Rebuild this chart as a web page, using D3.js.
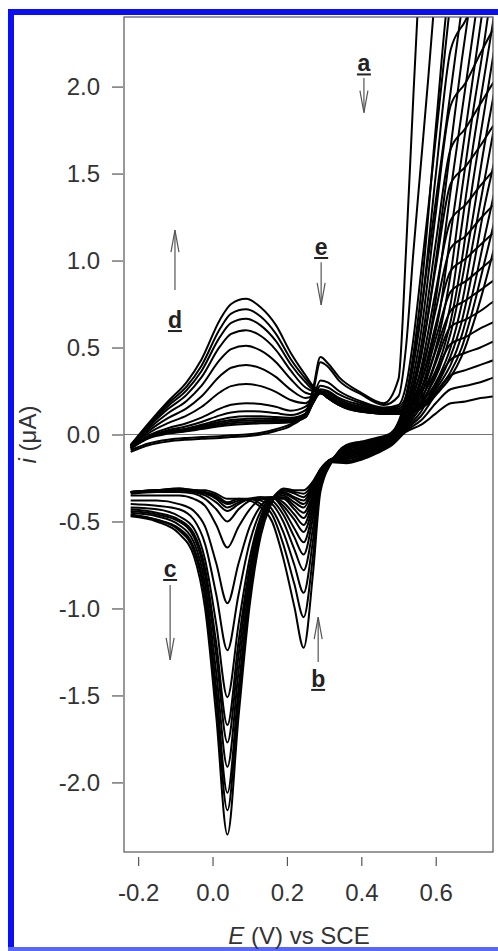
<!DOCTYPE html>
<html>
<head>
<meta charset="utf-8">
<script src="https://cdn.jsdelivr.net/npm/d3@7/dist/d3.min.js"></script>
<style>
  body { margin: 0; background: #fff; }
  text { font-family: Arial, "Liberation Sans", sans-serif; }
</style>
</head>
<body>
<svg id="main" width="498" height="951"></svg>
<script>
// potential grid of the anodic (forward) sweeps, V vs SCE
const eFwd = [-0.22, -0.17, -0.12, -0.07, -0.03, 0.02, 0.05, 0.09, 0.13, 0.17, 0.21,
  0.25, 0.27, 0.29, 0.31, 0.34, 0.40, 0.46,
  0.50, 0.52, 0.54, 0.56, 0.58, 0.61, 0.64, 0.67, 0.70, 0.73, 0.76, 0.80];

// forward currents (uA), one row per cycle, null = beyond the top of the plot
const fwdCurrent = [
  [-0.10,-0.06,-0.04,-0.03,-0.025,-0.02,-0.015,-0.01,0.0,0.02,0.05, 0.12,0.26,0.445,0.41,0.33,0.24,0.18, 0.32,1.05,1.95,2.8,null,null,null,null,null,null,null,null],
  [-0.09,-0.05,-0.03,-0.02,-0.015,-0.01,-0.005,0.0,0.01,0.03,0.06, 0.11,0.24,0.415,0.39,0.31,0.23,0.17, 0.22,0.50,1.05,1.55,2.05,2.85,null,null,null,null,null,null],
  [-0.08,-0.02,0.005,0.018,0.031,0.047,0.054,0.06,0.064,0.066,0.071, 0.10,0.20,0.31,0.30,0.25,0.19,0.155, 0.17,0.28,0.55,0.92,1.3,1.9,2.5,null,null,null,null,null],
  [-0.08,-0.016,0.008,0.022,0.036,0.056,0.064,0.07,0.073,0.073,0.077, 0.10,0.19,0.28,0.27,0.23,0.18,0.15, 0.16,0.22,0.42,0.70,1.02,1.5,1.97,2.45,null,null,null,null],
  [-0.08,-0.015,0.01,0.026,0.042,0.064,0.074,0.08,0.082,0.081,0.082, 0.10,0.18,0.26,0.25,0.21,0.17,0.145, 0.15,0.19,0.28,0.45,0.70,1.15,1.65,2.15,2.6,null,null,null],
  [-0.08,-0.014,0.013,0.03,0.048,0.073,0.084,0.09,0.092,0.089,0.088, 0.11,0.18,0.25,0.24,0.20,0.16,0.14, 0.14,0.17,0.24,0.36,0.52,0.92,1.4,1.85,2.3,2.75,null,null],
  [-0.078,-0.012,0.017,0.035,0.056,0.085,0.098,0.105,0.105,0.10,0.096, 0.12,0.18,0.24,0.23,0.19,0.155,0.14, 0.14,0.16,0.21,0.30,0.43,0.70,1.15,1.6,2.05,2.5,null,null],
  [-0.077,-0.009,0.024,0.047,0.072,0.11,0.126,0.134,0.132,0.123,0.112, 0.14,0.19,0.235,0.22,0.185,0.15,0.135, 0.135,0.15,0.19,0.26,0.36,0.58,0.92,1.4,1.85,2.25,2.7,null],
  [-0.076,-0.003,0.036,0.065,0.097,0.149,0.171,0.18,0.175,0.159,0.137, 0.16,0.20,0.235,0.215,0.18,0.145,0.13, 0.13,0.14,0.18,0.24,0.31,0.50,0.75,1.2,1.65,2.05,2.45,3.0],
  [-0.073,0.01,0.065,0.108,0.158,0.243,0.278,0.29,0.278,0.245,0.198, 0.18,0.21,0.24,0.21,0.175,0.14,0.13, 0.13,0.14,0.17,0.21,0.28,0.42,0.65,1.0,1.45,1.85,2.25,2.8],
  [-0.07,0.023,0.094,0.15,0.218,0.336,0.384,0.40,0.38,0.331,0.258, 0.21,0.22,0.24,0.21,0.17,0.14,0.125, 0.125,0.13,0.15,0.19,0.25,0.38,0.58,0.88,1.25,1.65,2.0,2.5],
  [-0.067,0.036,0.122,0.193,0.279,0.43,0.491,0.51,0.482,0.417,0.319, 0.24,0.23,0.245,0.21,0.17,0.135,0.125, 0.125,0.13,0.15,0.18,0.23,0.34,0.50,0.75,1.1,1.45,1.8,2.3],
  [-0.065,0.047,0.146,0.228,0.328,0.506,0.578,0.60,0.566,0.487,0.368, 0.27,0.25,0.245,0.21,0.17,0.135,0.12, 0.12,0.125,0.14,0.17,0.21,0.31,0.45,0.65,0.95,1.3,1.6,2.1],
  [-0.063,0.055,0.163,0.254,0.364,0.561,0.641,0.665,0.626,0.538,0.404, 0.30,0.26,0.25,0.215,0.17,0.135,0.12, 0.12,0.125,0.14,0.16,0.20,0.29,0.40,0.57,0.82,1.12,1.42,1.9],
  [-0.062,0.062,0.177,0.275,0.394,0.608,0.695,0.72,0.677,0.58,0.434, 0.32,0.27,0.25,0.22,0.17,0.13,0.12, 0.12,0.12,0.13,0.15,0.19,0.27,0.36,0.50,0.72,0.98,1.25,1.7],
  [-0.06,0.07,0.19,0.30,0.43,0.66,0.75,0.78,0.73,0.63,0.47, 0.34,0.28,0.25,0.22,0.17,0.13,0.12, 0.12,0.12,0.13,0.15,0.18,0.25,0.33,0.45,0.63,0.85,1.1,1.5]
];

// potential grid of the cathodic (return) sweeps
const eRev = [-0.22, -0.15, -0.09, -0.05, -0.02, 0.01, 0.04, 0.07, 0.10, 0.13, 0.16, 0.19,
  0.22, 0.245, 0.27, 0.29, 0.32, 0.36, 0.40, 0.44, 0.48,
  0.52, 0.56, 0.60, 0.64, 0.68, 0.72, 0.76, 0.78];

// return currents (uA), one row per cycle
const revCurrent = [
  [-0.33,-0.32,-0.31,-0.32,-0.32,-0.34,-0.37,-0.37,-0.38,-0.42,-0.50,-0.71,-0.99,-1.226,-0.80,-0.33,-0.16,-0.06,-0.04,-0.02,0.01, 0.22,0.80,1.76,2.62,2.82,3.04,3.26,3.36],
  [-0.33,-0.32,-0.31,-0.32,-0.33,-0.35,-0.39,-0.37,-0.37,-0.40,-0.46,-0.63,-0.86,-1.05,-0.70,-0.30,-0.16,-0.067,-0.047,-0.026,0.005, 0.19,0.68,1.49,2.21,2.38,2.57,2.75,2.84],
  [-0.33,-0.32,-0.32,-0.32,-0.335,-0.36,-0.40,-0.38,-0.37,-0.38,-0.43,-0.56,-0.75,-0.91,-0.61,-0.28,-0.15,-0.074,-0.054,-0.032,0.0, 0.16,0.58,1.27,1.89,2.02,2.19,2.35,2.42],
  [-0.33,-0.32,-0.32,-0.33,-0.34,-0.37,-0.42,-0.39,-0.37,-0.37,-0.40,-0.50,-0.66,-0.78,-0.54,-0.26,-0.15,-0.081,-0.061,-0.038,-0.005, 0.14,0.50,1.10,1.64,1.76,1.90,2.04,2.10],
  [-0.33,-0.32,-0.32,-0.33,-0.35,-0.39,-0.44,-0.40,-0.37,-0.36,-0.38,-0.46,-0.59,-0.69,-0.48,-0.25,-0.15,-0.088,-0.068,-0.044,-0.01, 0.12,0.44,0.96,1.44,1.54,1.66,1.79,1.84],
  [-0.34,-0.33,-0.33,-0.34,-0.37,-0.43,-0.50,-0.43,-0.38,-0.36,-0.36,-0.43,-0.54,-0.62,-0.44,-0.24,-0.15,-0.095,-0.075,-0.05,-0.015, 0.105,0.375,0.825,1.23,1.32,1.43,1.53,1.58],
  [-0.35,-0.35,-0.35,-0.37,-0.41,-0.52,-0.65,-0.53,-0.43,-0.37,-0.36,-0.41,-0.49,-0.56,-0.41,-0.23,-0.145,-0.102,-0.082,-0.056,-0.02, 0.09,0.325,0.715,1.07,1.14,1.24,1.33,1.37],
  [-0.38,-0.38,-0.40,-0.44,-0.53,-0.74,-0.97,-0.74,-0.53,-0.41,-0.36,-0.39,-0.46,-0.52,-0.38,-0.23,-0.145,-0.109,-0.089,-0.062,-0.025, 0.08,0.29,0.63,0.94,1.01,1.09,1.17,1.21],
  [-0.40,-0.41,-0.43,-0.49,-0.63,-0.92,-1.24,-0.92,-0.62,-0.44,-0.37,-0.37,-0.43,-0.48,-0.36,-0.22,-0.14,-0.116,-0.096,-0.068,-0.03, 0.07,0.25,0.55,0.82,0.88,0.95,1.02,1.05],
  [-0.42,-0.43,-0.47,-0.54,-0.72,-1.09,-1.51,-1.09,-0.71,-0.47,-0.37,-0.36,-0.41,-0.45,-0.34,-0.22,-0.14,-0.123,-0.103,-0.074,-0.035, 0.06,0.22,0.48,0.71,0.77,0.83,0.89,0.91],
  [-0.43,-0.45,-0.49,-0.57,-0.77,-1.20,-1.67,-1.19,-0.76,-0.49,-0.37,-0.35,-0.39,-0.42,-0.32,-0.21,-0.14,-0.13,-0.11,-0.08,-0.04, 0.05,0.19,0.41,0.62,0.66,0.71,0.77,0.79],
  [-0.44,-0.46,-0.50,-0.59,-0.81,-1.27,-1.77,-1.27,-0.79,-0.50,-0.37,-0.34,-0.37,-0.40,-0.31,-0.21,-0.145,-0.137,-0.117,-0.086,-0.045, 0.045,0.16,0.35,0.52,0.56,0.61,0.65,0.67],
  [-0.45,-0.47,-0.52,-0.62,-0.86,-1.37,-1.91,-1.36,-0.84,-0.52,-0.37,-0.33,-0.36,-0.38,-0.30,-0.21,-0.15,-0.144,-0.124,-0.092,-0.05, 0.037,0.13,0.29,0.43,0.47,0.50,0.54,0.56],
  [-0.46,-0.49,-0.54,-0.65,-0.91,-1.46,-2.06,-1.46,-0.89,-0.54,-0.38,-0.32,-0.34,-0.36,-0.29,-0.20,-0.15,-0.151,-0.131,-0.098,-0.055, 0.03,0.105,0.23,0.34,0.37,0.40,0.43,0.44],
  [-0.465,-0.49,-0.55,-0.67,-0.94,-1.53,-2.16,-1.53,-0.92,-0.54,-0.37,-0.32,-0.33,-0.34,-0.28,-0.20,-0.155,-0.158,-0.138,-0.104,-0.06, 0.022,0.08,0.18,0.26,0.28,0.30,0.33,0.34],
  [-0.47,-0.50,-0.57,-0.70,-1.00,-1.62,-2.30,-1.62,-0.98,-0.58,-0.39,-0.31,-0.32,-0.32,-0.27,-0.20,-0.16,-0.165,-0.145,-0.11,-0.065, 0.015,0.055,0.12,0.18,0.19,0.21,0.22,0.23]
];

const xTicks = [-0.2, 0.0, 0.2, 0.4, 0.6];
const yTicks = [-2.0, -1.5, -1.0, -0.5, 0.0, 0.5, 1.0, 1.5, 2.0];

// trend markers: letter, potential, current at the letter, arrow start and end current
const markers = [
  { label: 'a', e: 0.407, at: 2.087, from: 2.05, to: 1.85 },
  { label: 'e', e: 0.292, at: 1.032, from: 0.99, to: 0.745 },
  { label: 'd', e: -0.101, at: 0.612, from: 0.83, to: 1.175 },
  { label: 'c', e: -0.114, at: -0.819, from: -0.865, to: -1.296 },
  { label: 'b', e: 0.284, at: -1.451, from: -1.308, to: -1.05 }
];

const svg = d3.select('#main');
const plotL = 124, plotR = 493, plotT = 17, plotB = 852;

const x = d3.scaleLinear().domain([-0.238, 0.754]).range([plotL, plotR]);
const y = d3.scaleLinear().domain([-2.4, 2.4]).range([plotB, plotT]);

// blue frame of the figure
svg.append('rect').attr('x', 0).attr('y', 0).attr('width', 498).attr('height', 951).attr('fill', '#fff');
svg.append('rect').attr('x', 8).attr('y', 9).attr('width', 490).attr('height', 6).attr('fill', '#0a10f2');
svg.append('rect').attr('x', 8).attr('y', 9).attr('width', 6).attr('height', 942).attr('fill', '#0a10f2');
svg.append('rect').attr('x', 8).attr('y', 947).attr('width', 490).attr('height', 4).attr('fill', '#5868ff');

svg.append('clipPath').attr('id', 'plotclip')
  .append('rect').attr('x', plotL).attr('y', plotT).attr('width', plotR - plotL).attr('height', plotB - plotT);

// zero line
svg.append('line')
  .attr('x1', plotL).attr('x2', plotR).attr('y1', y(0)).attr('y2', y(0))
  .attr('stroke', '#777').attr('stroke-width', 1);

const line = d3.line()
  .defined(d => d[1] != null)
  .x(d => x(d[0])).y(d => y(d[1]))
  .curve(d3.curveMonotoneX);

const curves = svg.append('g').attr('clip-path', 'url(#plotclip)');
const sweeps = [];
fwdCurrent.forEach(row => sweeps.push(eFwd.map((e, j) => [e, row[j]])));
revCurrent.forEach(row => sweeps.push(eRev.map((e, j) => [e, row[j]])));

curves.selectAll('path').data(sweeps).join('path')
  .attr('d', line)
  .attr('fill', 'none')
  .attr('stroke', '#000')
  .attr('stroke-width', 2);

// plot box
svg.append('rect')
  .attr('x', plotL).attr('y', plotT).attr('width', plotR - plotL).attr('height', plotB - plotT)
  .attr('fill', 'none').attr('stroke', '#555').attr('stroke-width', 1.2);

const fmt = d => d.toFixed(1);

const yAxis = svg.append('g').attr('transform', `translate(${plotL - 1},0)`)
  .call(d3.axisLeft(y).tickValues(yTicks).tickFormat(fmt).tickSize(11).tickPadding(12));
const xAxis = svg.append('g').attr('transform', `translate(0,${plotB + 5})`)
  .call(d3.axisBottom(x).tickValues(xTicks).tickFormat(fmt).tickSize(9).tickPadding(18));

[yAxis, xAxis].forEach(g => {
  g.select('.domain').remove();
  g.selectAll('.tick line').attr('stroke', '#555').attr('stroke-width', 1.2);
  g.selectAll('.tick text').attr('fill', '#333').style('font-size', '24px')
    .style('font-family', 'Arial, "Liberation Sans", sans-serif');
});

// axis titles
const yt = svg.append('text')
  .attr('transform', `translate(27,${(plotT + plotB) / 2}) rotate(-90)`)
  .attr('text-anchor', 'middle').attr('dominant-baseline', 'central')
  .attr('fill', '#333').style('font-size', '24px');
yt.append('tspan').style('font-style', 'italic').text('i');
yt.append('tspan').text(' (μA)');

const xt = svg.append('text')
  .attr('x', 299).attr('y', 944)
  .attr('text-anchor', 'middle')
  .attr('fill', '#333').style('font-size', '24px');
xt.append('tspan').style('font-style', 'italic').text('E');
xt.append('tspan').text(' (V) vs SCE');

// trend arrows with underlined letters
const mk = svg.append('g');
markers.forEach(m => {
  const cx = x(m.e);
  mk.append('text')
    .attr('x', cx).attr('y', y(m.at))
    .attr('text-anchor', 'middle')
    .attr('fill', '#222').style('font-size', '23px').style('font-weight', 'bold')
    .text(m.label);
  mk.append('line')
    .attr('x1', cx - 7).attr('x2', cx + 7)
    .attr('y1', y(m.at) + 3).attr('y2', y(m.at) + 3)
    .attr('stroke', '#222').attr('stroke-width', 2);
  const y0 = y(m.from), y1 = y(m.to);
  const dir = y1 > y0 ? 1 : -1;
  mk.append('line')
    .attr('x1', cx).attr('x2', cx).attr('y1', y0).attr('y2', y1)
    .attr('stroke', '#555').attr('stroke-width', 1.2);
  mk.append('path')
    .attr('d', `M${cx - 4},${y1 - dir * 22} L${cx},${y1} L${cx + 4},${y1 - dir * 22}`)
    .attr('fill', 'none').attr('stroke', '#555').attr('stroke-width', 1.2);
});
</script>
</body>
</html>
